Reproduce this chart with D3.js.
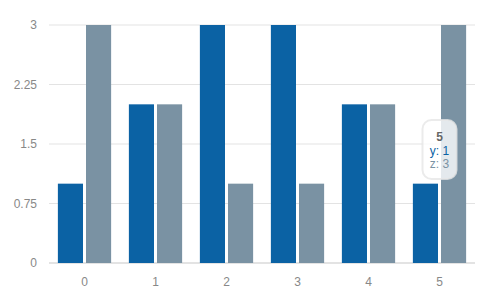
<!DOCTYPE html>
<html>
<head>
<meta charset="utf-8">
<script src="https://cdn.jsdelivr.net/npm/d3@7"></script>
<style>
  body { margin: 0; background: #fff; }
  svg { display: block; font-family: "Liberation Sans", Arial, sans-serif; }
</style>
</head>
<body>
<script>
// chart data
var categories = ['0', '1', '2', '3', '4', '5'];
var seriesKeys = ['y', 'z'];
var yValues = [1, 2, 3, 3, 2, 1];
var zValues = [3, 2, 1, 1, 2, 3];
var yTicks = [0, 0.75, 1.5, 2.25, 3];
var colors = ['#0b62a4', '#7a92a3'];
var hoverIndex = 5;

var width = 500, height = 300;
var margin = { top: 25, right: 25, bottom: 37, left: 49 };

var svg = d3.select('body').append('svg')
    .attr('width', width)
    .attr('height', height);

var x0 = d3.scaleBand()
    .domain(categories)
    .range([margin.left, width - margin.right])
    .paddingInner(0.25)
    .paddingOuter(0.125);

var barGap = 3;
var barW = (x0.bandwidth() - barGap) / 2;
var x1 = d3.scaleBand()
    .domain(seriesKeys)
    .range([0, x0.bandwidth()])
    .paddingInner(barGap / (barW + barGap));

var y = d3.scaleLinear()
    .domain([0, 3])
    .range([height - margin.bottom, margin.top]);

// grid lines
svg.append('g').selectAll('line')
    .data(yTicks)
    .enter().append('line')
    .attr('x1', margin.left)
    .attr('x2', width - margin.right)
    .attr('y1', function(d) { return y(d); })
    .attr('y2', function(d) { return y(d); })
    .attr('stroke', '#e3e3e3')
    .attr('stroke-width', function(d) { return d === 0 ? 2 : 1; });

// y labels
svg.append('g').selectAll('text')
    .data(yTicks)
    .enter().append('text')
    .attr('x', 37)
    .attr('y', function(d) { return y(d); })
    .attr('dy', '0.35em')
    .attr('text-anchor', 'end')
    .attr('font-size', '12px')
    .attr('fill', '#888')
    .text(function(d) { return d; });

// x labels
svg.append('g').selectAll('text')
    .data(categories)
    .enter().append('text')
    .attr('x', function(d) { return x0(d) + x0.bandwidth() / 2; })
    .attr('y', 286)
    .attr('text-anchor', 'middle')
    .attr('font-size', '12px')
    .attr('fill', '#888')
    .text(function(d) { return d; });

// bars
var rows = categories.map(function(c, i) {
    return { cat: c, values: [yValues[i], zValues[i]] };
});

var groups = svg.append('g').selectAll('g')
    .data(rows)
    .enter().append('g')
    .attr('transform', function(d) { return 'translate(' + x0(d.cat) + ',0)'; });

groups.selectAll('rect')
    .data(function(d) {
        return d.values.map(function(v, j) { return { key: seriesKeys[j], value: v, i: j }; });
    })
    .enter().append('rect')
    .attr('x', function(d) { return x1(d.key); })
    .attr('width', x1.bandwidth())
    .attr('y', function(d) { return y(d.value); })
    .attr('height', function(d) { return y(0) - y(d.value); })
    .attr('fill', function(d) { return colors[d.i]; });

// hover box
var hx = x0(categories[hoverIndex]) + x0.bandwidth() / 2;
var hover = svg.append('g').attr('transform', 'translate(' + hx + ',120)');

hover.append('rect')
    .attr('x', -17)
    .attr('y', 0)
    .attr('width', 34)
    .attr('height', 59)
    .attr('rx', 9)
    .attr('fill', 'rgba(255,255,255,0.8)')
    .attr('stroke', 'rgba(230,230,230,0.8)')
    .attr('stroke-width', 2);

hover.append('text')
    .attr('x', 0).attr('y', 17).attr('dy', '0.35em')
    .attr('text-anchor', 'middle')
    .attr('font-size', '12px')
    .attr('font-weight', 'bold')
    .attr('fill', '#666')
    .text(categories[hoverIndex]);

hover.selectAll('text.pt')
    .data(seriesKeys)
    .enter().append('text')
    .attr('class', 'pt')
    .attr('x', 0)
    .attr('y', function(d, j) { return 30.5 + j * 13; })
    .attr('dy', '0.35em')
    .attr('text-anchor', 'middle')
    .attr('font-size', '12px')
    .attr('fill', function(d, j) { return colors[j]; })
    .text(function(d, j) {
        var v = j === 0 ? yValues[hoverIndex] : zValues[hoverIndex];
        return d + ': ' + v;
    });
</script>
</body>
</html>
